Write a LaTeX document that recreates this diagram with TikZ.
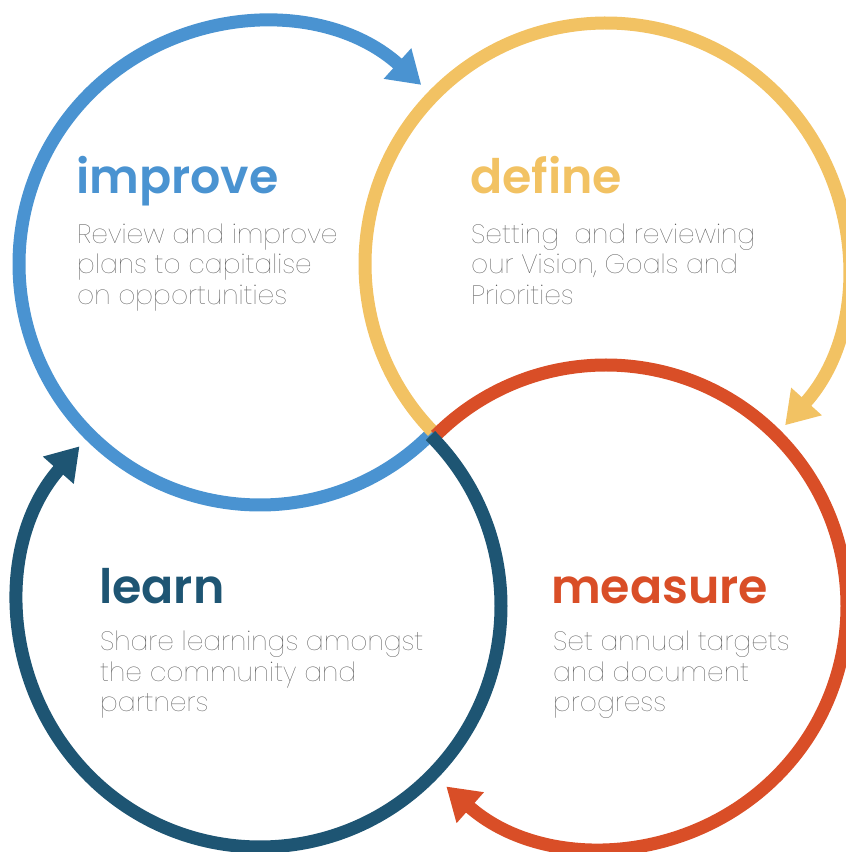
\documentclass[tikz,border=0pt]{standalone}
\usepackage{fontspec}
\usetikzlibrary{arrows.meta,calc}
\newfontfamily\headfont{Poppins SemiBold}
\newfontfamily\bodyfont{Poppins Thin}
\definecolor{cImprove}{HTML}{4A93D1}
\definecolor{cDefine}{HTML}{F2C263}
\definecolor{cMeasure}{HTML}{D94E27}
\definecolor{cLearn}{HTML}{1E5573}
\definecolor{cBody}{HTML}{555555}
\tikzset{
  ring/.style={line width=13pt, line cap=butt,
    -{Triangle[length=32pt,width=39pt]}},
  head/.style={anchor=base west, inner sep=0pt,
    font=\headfont\fontsize{47.5}{54}\selectfont},
  body/.style={anchor=base west, inner sep=0pt, text=cBody,
    font=\bodyfont\fontsize{26.5}{30.5}\selectfont},
}
\newcommand{\lines}[1]{\begin{tabular}[t]{@{}l@{}}#1\end{tabular}}
\begin{document}
\begin{tikzpicture}[x=1pt,y=1pt]
  \useasboundingbox (0,0) rectangle (846,852);
  \clip (0,0) rectangle (846,852);
  % centres of the four rings
  \coordinate (B) at (260,588);
  \coordinate (Y) at (606,588);
  \coordinate (R) at (606,246);
  \coordinate (D) at (260,246);
  \def\rr{241}
  % rings, each running clockwise from the common crossing to its arrow
  \draw[ring, cImprove] ($(B)+(-44:\rr)$) arc[start angle=-44, end angle=-312, radius=\rr];
  \draw[ring, cDefine]  ($(Y)+(224:\rr)$) arc[start angle=224, end angle=-42, radius=\rr];
  \draw[ring, cMeasure] ($(R)+(135:\rr)$) arc[start angle=135, end angle=-131.5, radius=\rr];
  \draw[ring, cLearn]   ($(D)+(45:\rr)$)  arc[start angle=45, end angle=-221.5, radius=\rr];
  % labels
  \node[head, text=cImprove] (tImprove) at (76,658) {improve};
  \node[body] (bImprove) at (77,608.5) {\lines{Review and improve\\plans to capitalise\\on opportunities}};
  \node[head, text=cDefine] (tDefine) at (470,658) {define};
  \node[body] (bDefine) at (471,608.5) {\lines{Setting\ \ and reviewing\\our Vision, Goals and\\Priorities}};
  \node[head, text=cLearn] (tLearn) at (99,248) {learn};
  \node[body] (bLearn) at (100,201) {\lines{Share learnings amongst\\the community and\\partners}};
  \node[head, text=cMeasure] (tMeasure) at (551,248) {measure};
  \node[body] (bMeasure) at (553,201) {\lines{Set annual targets\\and document\\progress}};
\end{tikzpicture}
\end{document}
